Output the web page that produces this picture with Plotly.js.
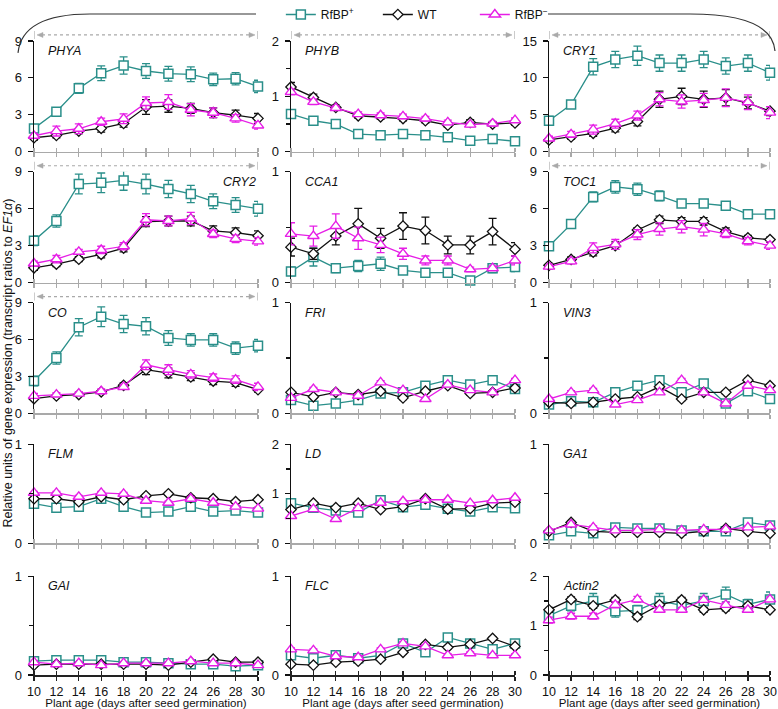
<!DOCTYPE html>
<html>
<head>
<meta charset="utf-8">
<script src="https://cdn.plot.ly/plotly-3.0.1.min.js"></script>
<style>html,body{margin:0;padding:0;background:#fff;}#chart{width:778px;height:709px;}</style>
</head>
<body>
<div id="chart"></div>
<script>
// ---------- DATA ----------
const days = [10, 12, 14, 16, 18, 20, 22, 24, 26, 28, 30];
const seriesNames = ['RfBP<sup>+</sup>', 'WT', 'RfBP<sup>−</sup>'];
const geneNames = ['PHYA','PHYB','CRY1','CRY2','CCA1','TOC1','CO','FRI','VIN3','FLM','LD','GA1','GAI','FLC','Actin2'];
const yMax = [9, 2, 15, 9, 1, 9, 9, 1, 1, 1, 2, 1, 1, 1, 2];
const yDtick = [3, 1, 5, 3, 1, 3, 3, 1, 1, 1, 1, 1, 1, 1, 1];
const xTitle = 'Plant age (days after seed germination)';
const yTitle = 'Relative units of gene expression (transcript ratios to <i>EF1α</i>)';

const phyaPlus = [1.9, 3.25, 5.15, 6.37, 7.0, 6.56, 6.34, 6.29, 5.88, 5.93, 5.31];
const phyaPlusErr = [0.3, 0.2, 0.4, 0.6, 0.7, 0.6, 0.6, 0.6, 0.5, 0.5, 0.5];
const phyaWt = [1.14, 1.33, 1.68, 1.9, 2.3, 3.63, 3.71, 3.52, 3.17, 2.98, 2.71];
const phyaWtErr = [0.2, 0.2, 0.2, 0.3, 0.3, 0.6, 0.5, 0.4, 0.4, 0.4, 0.4];
const phyaMinus = [1.3, 1.68, 1.87, 2.44, 2.68, 3.96, 4.04, 3.41, 3.17, 2.71, 2.14];
const phyaMinusErr = [0.2, 0.4, 0.4, 0.3, 0.4, 0.5, 0.6, 0.5, 0.4, 0.3, 0.3];

const phybPlus = [0.68, 0.56, 0.5, 0.32, 0.3, 0.32, 0.3, 0.26, 0.2, 0.23, 0.19];
const phybPlusErr = [0.06, 0.03, 0.03, 0.03, 0.03, 0.03, 0.03, 0.03, 0.03, 0.03, 0.03];
const phybWt = [1.17, 0.98, 0.8, 0.65, 0.63, 0.6, 0.56, 0.48, 0.53, 0.5, 0.52];
const phybWtErr = [0.08, 0.06, 0.04, 0.04, 0.04, 0.04, 0.04, 0.04, 0.05, 0.04, 0.04];
const phybMinus = [1.08, 0.9, 0.79, 0.68, 0.66, 0.64, 0.6, 0.53, 0.49, 0.51, 0.57];
const phybMinusErr = [0.05, 0.05, 0.04, 0.04, 0.04, 0.04, 0.04, 0.04, 0.04, 0.04, 0.04];

const cry1Plus = [4.2, 6.4, 11.5, 12.5, 13.0, 12.0, 12.0, 12.5, 11.6, 12.0, 10.7];
const cry1PlusErr = [0.6, 0.5, 1.1, 1.1, 1.3, 1.1, 1.1, 1.1, 1.1, 1.1, 1.0];
const cry1Wt = [1.6, 2.0, 2.5, 3.2, 4.1, 7.1, 7.5, 7.1, 7.3, 6.6, 5.5];
const cry1WtErr = [0.3, 0.3, 0.4, 0.5, 0.6, 1.1, 1.1, 1.1, 1.1, 0.8, 0.6];
const cry1Minus = [1.8, 2.35, 3.0, 3.8, 4.9, 7.1, 6.8, 7.0, 7.3, 6.7, 5.3];
const cry1MinusErr = [0.3, 0.4, 0.6, 0.6, 0.6, 0.9, 0.9, 0.9, 1.2, 1.0, 0.8];

const cry2Plus = [3.4, 5.0, 8.0, 8.1, 8.3, 8.0, 7.6, 7.2, 6.6, 6.3, 6.0];
const cry2PlusErr = [0.4, 0.5, 0.8, 0.8, 0.8, 0.8, 0.7, 0.7, 0.6, 0.6, 0.6];
const cry2Wt = [1.2, 1.5, 1.9, 2.3, 2.8, 4.95, 5.0, 5.0, 4.2, 4.05, 3.8];
const cry2WtErr = [0.2, 0.2, 0.2, 0.3, 0.3, 0.4, 0.4, 0.4, 0.4, 0.4, 0.4];
const cry2Minus = [1.55, 1.9, 2.5, 2.65, 2.95, 5.1, 5.0, 5.2, 3.95, 3.55, 3.35];
const cry2MinusErr = [0.2, 0.3, 0.2, 0.3, 0.3, 0.5, 0.4, 0.5, 0.3, 0.3, 0.3];

const cca1Plus = [0.1, 0.23, 0.13, 0.15, 0.17, 0.11, 0.09, 0.09, 0.02, 0.13, 0.14];
const cca1PlusErr = [0.04, 0.08, 0.04, 0.05, 0.06, 0.03, 0.02, 0.02, 0.02, 0.04, 0.04];
const cca1Wt = [0.32, 0.26, 0.42, 0.53, 0.4, 0.51, 0.47, 0.34, 0.34, 0.46, 0.3];
const cca1WtErr = [0.08, 0.05, 0.08, 0.14, 0.09, 0.12, 0.12, 0.08, 0.08, 0.12, 0.06];
const cca1Minus = [0.44, 0.42, 0.51, 0.4, 0.34, 0.26, 0.2, 0.2, 0.12, 0.13, 0.2];
const cca1MinusErr = [0.1, 0.09, 0.11, 0.1, 0.07, 0.05, 0.04, 0.04, 0.02, 0.02, 0.04];

const toc1Plus = [2.95, 4.75, 6.96, 7.77, 7.58, 7.04, 6.42, 6.42, 6.24, 5.56, 5.56];
const toc1PlusErr = [0.2, 0.2, 0.4, 0.5, 0.5, 0.4, 0.3, 0.3, 0.3, 0.2, 0.2];
const toc1Wt = [1.4, 1.88, 2.47, 3.0, 4.27, 5.1, 4.97, 4.97, 4.14, 3.63, 3.49];
const toc1WtErr = [0.15, 0.2, 0.3, 0.3, 0.2, 0.3, 0.3, 0.3, 0.3, 0.2, 0.2];
const toc1Minus = [1.3, 1.72, 2.82, 3.1, 3.9, 4.35, 4.54, 4.3, 3.95, 3.36, 3.0];
const toc1MinusErr = [0.2, 0.2, 0.4, 0.4, 0.4, 0.5, 0.5, 0.5, 0.3, 0.3, 0.3];

const coPlus = [2.63, 4.5, 7.0, 7.85, 7.26, 7.07, 6.13, 5.97, 5.97, 5.3, 5.5];
const coPlusErr = [0.4, 0.5, 0.7, 0.8, 0.7, 0.7, 0.6, 0.5, 0.5, 0.5, 0.5];
const coWt = [1.2, 1.42, 1.53, 1.75, 2.28, 3.55, 3.28, 2.96, 2.63, 2.5, 1.93];
const coWtErr = [0.1, 0.1, 0.1, 0.1, 0.2, 0.4, 0.4, 0.3, 0.3, 0.3, 0.2];
const coMinus = [1.42, 1.53, 1.61, 1.8, 2.15, 3.95, 3.55, 3.17, 2.9, 2.74, 2.15];
const coMinusErr = [0.2, 0.15, 0.15, 0.2, 0.2, 0.4, 0.4, 0.3, 0.3, 0.3, 0.3];

const friPlus = [0.12, 0.07, 0.09, 0.12, 0.18, 0.19, 0.25, 0.3, 0.26, 0.3, 0.22];
const friWt = [0.19, 0.15, 0.19, 0.17, 0.2, 0.14, 0.2, 0.25, 0.18, 0.19, 0.23];
const friMinus = [0.14, 0.22, 0.19, 0.16, 0.28, 0.21, 0.13, 0.26, 0.21, 0.19, 0.3];

const vin3Plus = [0.08, 0.11, 0.1, 0.19, 0.25, 0.3, 0.19, 0.27, 0.09, 0.2, 0.13];
const vin3Wt = [0.1, 0.09, 0.1, 0.13, 0.15, 0.24, 0.13, 0.19, 0.19, 0.3, 0.25];
const vin3Minus = [0.13, 0.19, 0.21, 0.08, 0.12, 0.19, 0.3, 0.19, 0.09, 0.25, 0.21];

const flmPlus = [0.4, 0.36, 0.37, 0.45, 0.37, 0.31, 0.32, 0.37, 0.32, 0.33, 0.31];
const flmWt = [0.45, 0.45, 0.42, 0.47, 0.44, 0.48, 0.5, 0.46, 0.45, 0.42, 0.44];
const flmMinus = [0.51, 0.51, 0.47, 0.51, 0.5, 0.43, 0.41, 0.45, 0.41, 0.37, 0.35];

const ldPlus = [0.81, 0.72, 0.66, 0.62, 0.87, 0.73, 0.78, 0.7, 0.64, 0.73, 0.71];
const ldWt = [0.68, 0.81, 0.72, 0.81, 0.68, 0.74, 0.9, 0.69, 0.7, 0.81, 0.83];
const ldMinus = [0.55, 0.69, 0.49, 0.71, 0.82, 0.85, 0.88, 0.88, 0.81, 0.87, 0.92];

const ga1Plus = [0.08, 0.12, 0.1, 0.16, 0.15, 0.15, 0.13, 0.12, 0.12, 0.21, 0.18];
const ga1Wt = [0.12, 0.21, 0.12, 0.11, 0.11, 0.11, 0.1, 0.12, 0.15, 0.12, 0.1];
const ga1Minus = [0.13, 0.19, 0.16, 0.13, 0.13, 0.14, 0.13, 0.14, 0.14, 0.16, 0.17];

const gaiPlus = [0.14, 0.15, 0.15, 0.15, 0.13, 0.13, 0.12, 0.11, 0.11, 0.09, 0.1];
const gaiWt = [0.1, 0.11, 0.11, 0.11, 0.11, 0.11, 0.1, 0.13, 0.16, 0.13, 0.13];
const gaiMinus = [0.13, 0.11, 0.12, 0.1, 0.12, 0.12, 0.12, 0.14, 0.12, 0.12, 0.1];

const flcPlus = [0.2, 0.17, 0.2, 0.17, 0.2, 0.32, 0.23, 0.38, 0.32, 0.26, 0.32];
const flcWt = [0.11, 0.1, 0.13, 0.14, 0.16, 0.23, 0.31, 0.28, 0.31, 0.37, 0.29];
const flcMinus = [0.26, 0.25, 0.19, 0.18, 0.26, 0.32, 0.29, 0.2, 0.22, 0.2, 0.2];

const smallErr = [0.015, 0.015, 0.015, 0.015, 0.015, 0.015, 0.015, 0.015, 0.015, 0.015, 0.015];

const actin2Plus = [1.2, 1.4, 1.5, 1.29, 1.31, 1.5, 1.41, 1.5, 1.63, 1.43, 1.53];
const actin2PlusErr = [0.1, 0.1, 0.15, 0.12, 0.1, 0.15, 0.1, 0.15, 0.15, 0.1, 0.15];
const actin2Wt = [1.32, 1.53, 1.4, 1.52, 1.18, 1.42, 1.52, 1.32, 1.35, 1.4, 1.32];
const actin2WtErr = [0.05, 0.05, 0.05, 0.05, 0.06, 0.05, 0.05, 0.05, 0.05, 0.05, 0.05];
const actin2Minus = [1.11, 1.19, 1.19, 1.42, 1.53, 1.32, 1.32, 1.52, 1.42, 1.32, 1.53];
const actin2MinusErr = [0.06, 0.06, 0.06, 0.06, 0.06, 0.05, 0.05, 0.05, 0.05, 0.05, 0.05];

// ---------- LAYOUT / STYLE ----------
const W = 778, H = 709;
const TEAL = '#2a8f8a', MAG = '#e61ee6', BLK = '#111111', GRAY = '#a9a9a9';
const FONT = 'Liberation Sans, Arial, sans-serif';
const colsPx = [[34, 258], [291, 515], [549, 770]];
const rowsPx = [[40, 151], [171, 282], [302, 413], [444, 543], [576, 675]];
const hasArrow = [true, true, true, true, false, true, true, false, false, false, false, false, false, false, false];
const labelRight = [false, false, false, true, false, false, false, false, false, false, false, false, false, false, false];

const panelData = [
  [phyaPlus, phyaPlusErr, phyaWt, phyaWtErr, phyaMinus, phyaMinusErr],
  [phybPlus, phybPlusErr, phybWt, phybWtErr, phybMinus, phybMinusErr],
  [cry1Plus, cry1PlusErr, cry1Wt, cry1WtErr, cry1Minus, cry1MinusErr],
  [cry2Plus, cry2PlusErr, cry2Wt, cry2WtErr, cry2Minus, cry2MinusErr],
  [cca1Plus, cca1PlusErr, cca1Wt, cca1WtErr, cca1Minus, cca1MinusErr],
  [toc1Plus, toc1PlusErr, toc1Wt, toc1WtErr, toc1Minus, toc1MinusErr],
  [coPlus, coPlusErr, coWt, coWtErr, coMinus, coMinusErr],
  [friPlus, smallErr, friWt, smallErr, friMinus, smallErr],
  [vin3Plus, smallErr, vin3Wt, smallErr, vin3Minus, smallErr],
  [flmPlus, smallErr, flmWt, smallErr, flmMinus, smallErr],
  [ldPlus, smallErr, ldWt, smallErr, ldMinus, smallErr],
  [ga1Plus, smallErr, ga1Wt, smallErr, ga1Minus, smallErr],
  [gaiPlus, smallErr, gaiWt, smallErr, gaiMinus, smallErr],
  [flcPlus, smallErr, flcWt, smallErr, flcMinus, smallErr],
  [actin2Plus, actin2PlusErr, actin2Wt, actin2WtErr, actin2Minus, actin2MinusErr]
];

const styles = [
  {color: TEAL, symbol: 'square', size: 9, lw: 1.5},
  {color: BLK, symbol: 'diamond', size: 8, lw: 1.3},
  {color: MAG, symbol: 'triangle-up', size: 10, lw: 1.4}
];

const traces = [];
const layout = {
  width: W, height: H,
  margin: {l: 0, r: 0, t: 0, b: 0},
  paper_bgcolor: '#fff', plot_bgcolor: 'rgba(0,0,0,0)',
  font: {family: FONT, size: 13, color: '#111'},
  showlegend: true,
  legend: {
    orientation: 'h', x: 0.548, xanchor: 'center', y: 1 - 14 / H, yanchor: 'middle',
    font: {family: FONT, size: 12, color: '#111'}, bgcolor: 'rgba(0,0,0,0)',
    entrywidth: 52, entrywidthmode: 'pixels', itemwidth: 30
  },
  shapes: [], annotations: []
};

const px = (x) => x / W;
const py = (y) => 1 - y / H;

geneNames.forEach((g, i) => {
  const r = Math.floor(i / 3), c = i % 3;
  const xid = i === 0 ? 'x' : 'x' + (i + 1);
  const yid = i === 0 ? 'y' : 'y' + (i + 1);
  const xk = i === 0 ? 'xaxis' : 'xaxis' + (i + 1);
  const yk = i === 0 ? 'yaxis' : 'yaxis' + (i + 1);
  const [l, rr] = colsPx[c];
  const [t, b] = rowsPx[r];
  const bottom = r === 4;
  const xcol = bottom ? '#222' : GRAY;
  layout[xk] = {
    domain: [px(l), px(rr)], range: [10, 30], anchor: yid,
    tickmode: 'linear', tick0: 10, dtick: 2,
    ticks: 'outside', ticklen: 4, tickwidth: 1.2, tickcolor: xcol,
    minor: {tickmode: 'linear', tick0: 10.001, dtick: 2, ticks: 'inside', ticklen: 4, tickwidth: 1.2, tickcolor: xcol, showgrid: false},
    showline: true, linecolor: xcol, linewidth: 1.5,
    showgrid: false, zeroline: false, fixedrange: true,
    showticklabels: bottom, ticklabeloverflow: 'allow',
    tickfont: {family: FONT, size: 12.5, color: '#111'},
    title: bottom ? {text: xTitle, font: {family: FONT, size: 11.5, color: '#111'}, standoff: 2} : {text: ''}
  };
  const yax = {
    domain: [py(b), py(t)], range: [0, yMax[i]], anchor: xid,
    tickmode: 'linear', tick0: 0, dtick: yDtick[i],
    ticks: 'outside', ticklen: 5, tickwidth: 1.2, tickcolor: '#111',
    showline: true, linecolor: '#111', linewidth: 1.5,
    showgrid: false, zeroline: false, fixedrange: true, ticklabeloverflow: 'allow',
    tickfont: {family: FONT, size: 13, color: '#111'}, ticklabelstandoff: 3
  };
  if (yMax[i] <= 2) yax.minor = {dtick: 0.5, tick0: 0, ticks: 'outside', ticklen: 4, tickcolor: '#111', tickwidth: 1.2, showgrid: false};
  layout[yk] = yax;

  const d = panelData[i];
  for (let s = 0; s < 3; s++) {
    const st = styles[s];
    traces.push({
      type: 'scatter', mode: 'lines+markers', x: days, y: d[s * 2],
      xaxis: xid, yaxis: yid, name: seriesNames[s],
      showlegend: i === 0, legendrank: s + 1,
      cliponaxis: false,
      line: {color: st.color, width: 1.3},
      marker: {symbol: st.symbol, size: st.size, color: '#fff', line: {color: st.color, width: st.lw}},
      error_y: {type: 'data', array: d[s * 2 + 1], visible: true, color: st.color, thickness: 1.3, width: 4}
    });
  }

  // gene label
  layout.annotations.push({
    xref: 'paper', yref: 'paper',
    x: labelRight[i] ? px(rr) : px(l + 12), xanchor: labelRight[i] ? 'right' : 'left',
    y: py(t + 1), yanchor: 'top', showarrow: false,
    text: '<i>' + g + '</i>', font: {family: FONT, size: 12.5, color: '#111'}
  });

  if (hasArrow[i]) {
    const ay = t - 6;
    const u = 20 / (rr - l); // data units per pixel
    layout.shapes.push({type: 'line', xref: xid, yref: 'paper', x0: 10 + 8 * u, x1: 30 - 8 * u, y0: py(ay), y1: py(ay),
      line: {color: GRAY, width: 1.2, dash: 'dot'}});
    layout.shapes.push({type: 'line', xref: xid, yref: 'paper', x0: 10, x1: 10, y0: py(t - 10), y1: py(t - 2),
      line: {color: GRAY, width: 1.2}});
    layout.shapes.push({type: 'line', xref: xid, yref: 'paper', x0: 30, x1: 30, y0: py(t - 10), y1: py(t - 2),
      line: {color: GRAY, width: 1.2}});
    layout.shapes.push({type: 'path', xref: xid, yref: 'paper', fillcolor: GRAY, line: {color: GRAY, width: 0.5},
      path: 'M ' + (10 + 3 * u) + ',' + py(ay) + ' L ' + (10 + 9 * u) + ',' + py(ay - 2.5) + ' L ' + (10 + 9 * u) + ',' + py(ay + 2.5) + ' Z'});
    layout.shapes.push({type: 'path', xref: xid, yref: 'paper', fillcolor: GRAY, line: {color: GRAY, width: 0.5},
      path: 'M ' + (30 - 3 * u) + ',' + py(ay) + ' L ' + (30 - 9 * u) + ',' + py(ay - 2.5) + ' L ' + (30 - 9 * u) + ',' + py(ay + 2.5) + ' Z'});
  }
});

// y-axis title
layout.annotations.push({
  xref: 'paper', yref: 'paper', x: px(8), y: py(363), xanchor: 'center', yanchor: 'middle',
  textangle: -90, showarrow: false, text: yTitle, font: {family: FONT, size: 12.5, color: '#111'}
});

// top brace
const P = (x, y) => px(x) + ',' + py(y);
layout.shapes.push({type: 'path', xref: 'paper', yref: 'paper',
  path: 'M ' + P(18, 52) + ' Q ' + P(22, 13) + ' ' + P(90, 13) + ' L ' + P(256, 13),
  line: {color: '#333', width: 1.2}});
layout.shapes.push({type: 'path', xref: 'paper', yref: 'paper',
  path: 'M ' + P(548, 13) + ' L ' + P(690, 13) + ' Q ' + P(772, 13) + ' ' + P(775, 50),
  line: {color: '#333', width: 1.2}});

Plotly.newPlot('chart', traces, layout, {displayModeBar: false, staticPlot: true});
</script>
</body>
</html>
